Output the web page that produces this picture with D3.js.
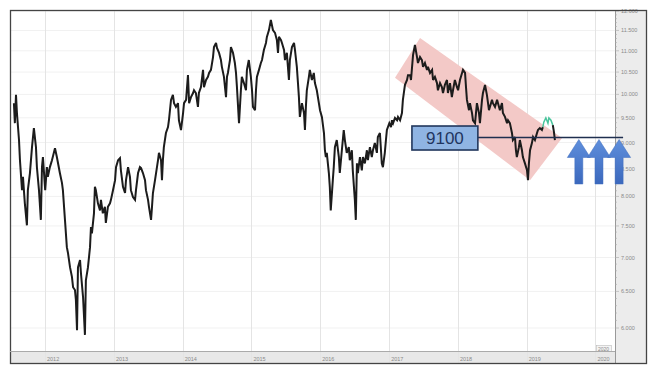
<!DOCTYPE html>
<html><head><meta charset="utf-8">
<script src="https://cdn.jsdelivr.net/npm/d3@7"></script>
<style>html,body{margin:0;padding:0;background:#fff;} svg{display:block}</style>
</head><body><svg id="c" width="660" height="377"></svg>
<script>
const dates = ["2011-07-20","2011-07-25","2011-07-31","2011-08-05","2011-08-16","2011-08-21","2011-09-01","2011-09-06","2011-09-16","2011-09-27","2011-10-02","2011-10-13","2011-10-24","2011-11-03","2011-11-14","2011-11-19","2011-11-30","2011-12-10","2011-12-16","2011-12-21",
"2012-01-02","2012-01-11","2012-01-16","2012-01-27","2012-02-07","2012-02-23","2012-03-04","2012-03-20","2012-03-31","2012-04-05","2012-04-16","2012-04-26","2012-05-02","2012-05-13","2012-05-23","2012-05-29","2012-06-08","2012-06-13","2012-06-19","2012-06-24","2012-07-05","2012-07-10","2012-07-21","2012-07-31","2012-08-05","2012-08-16","2012-08-27","2012-09-01","2012-09-06","2012-09-17","2012-09-22","2012-09-27","2012-10-08","2012-10-19","2012-10-24","2012-11-03","2012-11-14","2012-11-19","2012-11-30","2012-12-11","2012-12-16","2012-12-27",
"2013-01-07","2013-01-12","2013-01-23","2013-02-02","2013-02-07","2013-02-18","2013-03-01","2013-03-06","2013-03-17","2013-03-27","2013-04-01","2013-04-12","2013-04-23","2013-04-28","2013-05-09","2013-05-19","2013-05-25","2013-06-04","2013-06-15","2013-06-20","2013-07-01","2013-07-06","2013-07-17","2013-07-22","2013-07-27","2013-08-07","2013-08-23","2013-08-28","2013-09-08","2013-09-13","2013-09-18","2013-09-23","2013-10-04","2013-10-15","2013-10-20","2013-10-31","2013-11-10","2013-11-16","2013-11-26","2013-12-07","2013-12-12","2013-12-23",
"2014-01-03","2014-01-08","2014-01-19","2014-01-29","2014-02-04","2014-02-14","2014-02-25","2014-03-02","2014-03-12","2014-03-23","2014-03-28","2014-04-08","2014-04-19","2014-04-24","2014-05-05","2014-05-15","2014-05-21","2014-05-31","2014-06-11","2014-06-16","2014-06-27","2014-07-02","2014-07-13","2014-07-23","2014-07-28","2014-08-08","2014-08-19","2014-08-24","2014-08-29","2014-09-09","2014-09-14","2014-09-25","2014-10-05","2014-10-11","2014-10-16","2014-10-27","2014-11-06","2014-11-11","2014-11-22","2014-12-03","2014-12-08","2014-12-18","2014-12-29",
"2015-01-04","2015-01-09","2015-01-20","2015-01-25","2015-01-30","2015-02-10","2015-02-20","2015-02-26","2015-03-08","2015-03-19","2015-03-24","2015-04-04","2015-04-14","2015-04-25","2015-05-06","2015-05-16","2015-05-22","2015-05-27","2015-06-07","2015-06-12","2015-06-23","2015-06-28","2015-07-08","2015-07-19","2015-07-24","2015-08-04","2015-08-15","2015-08-20","2015-08-30","2015-09-05","2015-09-10","2015-09-15","2015-09-26","2015-10-07","2015-10-12","2015-10-17","2015-10-22","2015-11-02","2015-11-07","2015-11-18","2015-11-28","2015-12-04","2015-12-14","2015-12-25","2015-12-31",
"2016-01-10","2016-01-21","2016-01-26","2016-01-31","2016-02-05","2016-02-16","2016-02-21","2016-02-26","2016-03-08","2016-03-13","2016-03-19","2016-03-29","2016-04-09","2016-04-14","2016-04-25","2016-05-05","2016-05-11","2016-05-21","2016-06-01","2016-06-06","2016-06-17","2016-06-22","2016-07-03","2016-07-08","2016-07-14","2016-07-19","2016-07-30","2016-08-09","2016-08-15","2016-08-25","2016-09-05","2016-09-10","2016-09-21","2016-10-01","2016-10-07","2016-10-17","2016-10-28","2016-11-02","2016-11-13","2016-11-23","2016-11-29","2016-12-09","2016-12-15","2016-12-20",
"2017-01-02","2017-01-11","2017-01-16","2017-01-22","2017-02-01","2017-02-12","2017-02-17","2017-02-28","2017-03-10","2017-03-15","2017-03-26","2017-04-06","2017-04-11","2017-04-22","2017-04-27","2017-05-08","2017-05-18","2017-05-29","2017-06-03","2017-06-14","2017-06-24","2017-06-30","2017-07-10","2017-07-21","2017-07-26","2017-08-06","2017-08-17","2017-08-22","2017-09-01","2017-09-12","2017-09-17","2017-09-28","2017-10-08","2017-10-14","2017-10-24","2017-11-04","2017-11-09","2017-11-20","2017-11-30","2017-12-06","2017-12-16","2017-12-27",
"2018-01-02","2018-01-12","2018-01-23","2018-01-28","2018-02-08","2018-02-13","2018-02-18","2018-03-01","2018-03-06","2018-03-17","2018-03-22","2018-04-02","2018-04-07","2018-04-12","2018-04-23","2018-04-28","2018-05-09","2018-05-14","2018-05-25","2018-06-04","2018-06-15","2018-06-20","2018-07-01","2018-07-06","2018-07-17","2018-07-28","2018-08-02","2018-08-12","2018-08-23","2018-08-28","2018-09-08","2018-09-19","2018-09-24","2018-10-04","2018-10-15","2018-10-20","2018-10-31","2018-11-05","2018-11-10","2018-11-21","2018-11-26","2018-12-07","2018-12-12","2018-12-23",
"2019-01-03","2019-01-08","2019-01-13","2019-01-19","2019-01-29","2019-02-04","2019-02-14","2019-02-25","2019-03-02","2019-03-12","2019-03-23","2019-03-28"];
const values = [9810,9390,9990,9600,9050,8660,8110,8350,7880,7510,8110,8420,8910,9290,8910,8530,8110,7600,8530,8720,
8110,8530,8350,8530,8660,8890,8720,8420,8240,8110,7600,7160,7070,6850,6710,6560,6520,6380,5970,6850,6960,6760,6420,5910,6660,6850,7160,7480,7380,7710,8170,8110,7880,7760,7940,7710,7820,7550,7820,7880,7940,8110,
8290,8530,8660,8700,8470,8170,8060,8290,8530,8350,8110,7990,7940,8110,8420,8530,8510,8420,8290,8110,7940,7820,7600,7820,8060,8290,8660,8800,8660,8290,8660,8910,9190,9310,9450,9880,9990,9810,9730,9810,9450,9250,
9600,9810,9880,10430,9810,9940,10030,10090,10030,9730,10030,10160,10550,10160,10320,10390,10480,10550,10850,11090,11190,11070,10950,10780,10620,10390,9940,10390,10480,10780,11090,10950,10710,10480,10160,9390,10090,10390,10250,10090,10550,10780,10390,
10090,9730,9660,10090,10390,10550,10710,10780,11020,11190,11340,11510,11770,11510,11440,11260,10950,11340,11260,11190,11020,10780,10950,10320,10780,11090,11190,11020,10620,10250,9940,9520,9810,9600,9250,9730,10090,10390,10550,10320,10480,10250,10090,9810,9660,
9520,9190,8850,8720,8800,8420,8170,7760,8290,8530,8910,9050,8720,8420,8850,9250,9050,8800,8910,8660,8850,8470,7940,7600,8600,8420,8720,8470,8720,8600,8850,8660,8910,8720,8850,8990,8800,9110,9190,8600,8530,8800,9050,9250,
9390,9310,9450,9390,9500,9450,9520,9450,9600,9880,10210,10320,10430,10430,10320,10900,11140,10850,10710,10850,10780,10620,10710,10550,10620,10480,10550,10320,10390,10250,10090,10250,10160,10030,10210,10320,10030,10250,9940,10090,10320,10160,
10090,10320,10480,10550,10480,10160,9880,9660,9810,9600,9450,9390,9600,9810,9600,9390,9880,10030,10210,9990,9660,9730,9880,9810,9730,9880,9810,9660,9810,9600,9520,9390,9450,9390,9190,9050,9110,8850,8720,8910,9050,8850,8720,8600,
8470,8290,8600,8850,8990,9110,9050,9190,9250,9290,9250,9310];
const recentDates = ["2019-03-28","2019-04-02","2019-04-13","2019-04-24","2019-04-29","2019-05-10","2019-05-20"];
const recentValues = [9310,9410,9500,9390,9500,9450,9350];
const tailDates = ["2019-05-20","2019-05-26","2019-05-31"];
const tailValues = [9350,9210,9050];

const yTicks = [12000,11500,11000,10500,10000,9500,9000,8500,8000,7500,7000,6500,6000];
const xTicks = ["2012-01-01","2013-01-01","2014-01-01","2015-01-01","2016-01-01","2017-01-01","2018-01-01","2019-01-01","2020-01-01"];
const xTickLabels = ["2012","2013","2014","2015","2016","2017","2018","2019","2020"];

const channelDates = ["2017-02-01","2017-06-14","2019-07-08","2019-01-19"];
const channelValues = [10370,11310,9090,8290];

const levelValue = 9100;
const levelLabel = "9100";
const levelBoxDates = ["2017-05-02","2018-04-17"];
const levelLineEnd = "2020-05-27";
const arrowDates = ["2019-10-05","2020-01-20","2020-05-06"];
const arrowBaseValue = 8220;

// ---------- drawing ----------
const P = d3.timeParse("%Y-%m-%d");
const svg = d3.select("#c");
const L = 10, R = 615, T = 10, B = 351, FR = 647, FB = 364;

const x = d3.scaleTime().domain([P("2012-01-01"), P("2020-01-01")]).range([45, 595.4]);
const y = d3.scaleLog().domain([12000, 6000]).range([11, 328]);

const defs = svg.append("defs");
defs.append("clipPath").attr("id","clip").append("rect").attr("x",L).attr("y",T).attr("width",R-L).attr("height",B-T);
const g = defs.append("linearGradient").attr("id","ag").attr("x1",0).attr("y1",0).attr("x2",0).attr("y2",1);
g.append("stop").attr("offset","0%").attr("stop-color","#5f8fdc");
g.append("stop").attr("offset","100%").attr("stop-color","#3b68bd");

// panels
svg.append("rect").attr("x",R).attr("y",T).attr("width",FR-R).attr("height",FB-T).attr("fill","#ececec");
svg.append("rect").attr("x",L).attr("y",B).attr("width",R-L).attr("height",FB-B).attr("fill","#e8e8e8");

// grid
svg.append("g").selectAll("line").data(yTicks).join("line")
  .attr("x1",L).attr("x2",R).attr("y1",d=>y(d)).attr("y2",d=>y(d))
  .attr("stroke","#f1f1f1").attr("stroke-width",1);
svg.append("g").selectAll("line").data(xTicks).join("line")
  .attr("x1",d=>Math.round(x(P(d)))+0.5).attr("x2",d=>Math.round(x(P(d)))+0.5)
  .attr("y1",T).attr("y2",FB).attr("stroke","#e4e4e4").attr("stroke-width",1);

// x axis labels
svg.append("g").selectAll("text").data(xTicks).join("text")
  .attr("x",d=>x(P(d))+2).attr("y",360.5)
  .attr("font-family","Liberation Sans, Arial, sans-serif").attr("font-size",5.5).attr("fill","#8a8a8a")
  .text((d,i)=>xTickLabels[i]);
// cursor label
const cx2020 = x(P(xTicks[xTicks.length-1]));
svg.append("rect").attr("x",cx2020+1).attr("y",345.5).attr("width",15).attr("height",6).attr("fill","#f4f4f4").attr("stroke","#bbb").attr("stroke-width",0.6);
svg.append("text").attr("x",cx2020+2.5).attr("y",350.5).attr("font-family","Liberation Sans, Arial, sans-serif").attr("font-size",5).attr("fill","#888").text(xTickLabels[xTickLabels.length-1]);

// y axis
const loc = d3.formatLocale({decimal:",",thousands:".",grouping:[3],currency:["",""]});
const fmt = loc.format(",d");
svg.append("line").attr("x1",R+0.5).attr("x2",R+0.5).attr("y1",T).attr("y2",FB).attr("stroke","#999");
const minor = d3.range(6000, 12001, 100);
svg.append("g").selectAll("line").data(minor).join("line")
  .attr("x1",R).attr("x2",d=>R+(d%500===0?4:2)).attr("y1",d=>y(d)).attr("y2",d=>y(d))
  .attr("stroke","#aaa").attr("stroke-width",0.6);
svg.append("g").selectAll("text").data(yTicks).join("text")
  .attr("x",R+6).attr("y",d=>y(d)+2)
  .attr("font-family","Liberation Sans, Arial, sans-serif").attr("font-size",5.5).attr("fill","#8a8a8a")
  .text(d=>fmt(d));

// channel
svg.append("polygon").attr("clip-path","url(#clip)")
  .attr("points", channelDates.map((d,i)=>[x(P(d)), y(channelValues[i])].join(",")).join(" "))
  .attr("fill","#f3c9c7");

// price line
const line = d3.line().x(d=>x(d[0])).y(d=>y(d[1]));
const main = dates.map((d,i)=>[P(d), values[i]]);
const plotG = svg.append("g").attr("clip-path","url(#clip)");
plotG.append("path").attr("d",line(main)).attr("fill","none").attr("stroke","#1c1c1c").attr("stroke-width",2).attr("stroke-linejoin","miter").attr("stroke-miterlimit",3);
plotG.append("path").attr("d",line(recentDates.map((d,i)=>[P(d),recentValues[i]]))).attr("fill","none").attr("stroke","#49c49c").attr("stroke-width",1.5);
plotG.append("path").attr("d",line(tailDates.map((d,i)=>[P(d),tailValues[i]]))).attr("fill","none").attr("stroke","#1c1c1c").attr("stroke-width",2);

// level line
const ly = y(levelValue);
const bx0 = x(P(levelBoxDates[0])), bx1 = x(P(levelBoxDates[1]));
svg.append("line").attr("x1",bx1).attr("x2",x(P(levelLineEnd))).attr("y1",ly).attr("y2",ly)
  .attr("stroke","#1f2f4f").attr("stroke-width",1.5);

// arrows
const tipY = ly + 2, baseY = y(arrowBaseValue);
svg.append("g").selectAll("path").data(arrowDates).join("path")
  .attr("d", d=>{
    const c = x(P(d)), hw = 11.5, hh = 18, sw = 4;
    return `M${c},${tipY} L${c+hw},${tipY+hh} L${c+sw},${tipY+hh} L${c+sw},${baseY} L${c-sw},${baseY} L${c-sw},${tipY+hh} L${c-hw},${tipY+hh} Z`;
  })
  .attr("fill","url(#ag)").attr("stroke","#3f6cbf").attr("stroke-width",0.5);

// level box
svg.append("rect").attr("x",bx0).attr("y",ly-11.5).attr("width",bx1-bx0).attr("height",24)
  .attr("fill","#8fb4e3").attr("stroke","#22375c").attr("stroke-width",1.6);
svg.append("text").attr("x",(bx0+bx1)/2).attr("y",ly+0.5).attr("text-anchor","middle").attr("dominant-baseline","central")
  .attr("font-family","Liberation Sans, Arial, sans-serif").attr("font-size",17).attr("fill","#1f3560").text(levelLabel);

// frame
svg.append("rect").attr("x",L+0.5).attr("y",T+0.5).attr("width",FR-L-1).attr("height",FB-T-1)
  .attr("fill","none").attr("stroke","#444").attr("stroke-width",1.3);
svg.append("line").attr("x1",L).attr("x2",R).attr("y1",B+0.5).attr("y2",B+0.5).attr("stroke","#aaa").attr("stroke-width",1);
</script></body></html>
